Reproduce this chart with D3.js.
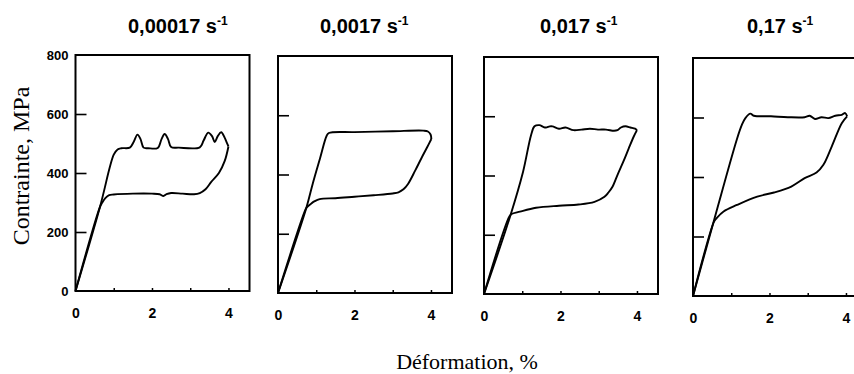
<!DOCTYPE html>
<html><head><meta charset="utf-8">
<script src="https://cdn.jsdelivr.net/npm/d3@7"></script>
<style>body{margin:0;background:#fff}svg{display:block}</style>
</head><body><svg id="c" width="854" height="374"></svg>
<script>
// ---- data ----
const rates = ["0,00017", "0,0017", "0,017", "0,17"];
const rateUnit = "s";
const rateExp = "-1";
const yTickValues = [0, 200, 400, 600, 800];
const yInnerTicks = [200, 400, 600];
const xTickLabels = [0, 2, 4];
const xMinorTicks = [1, 2, 3, 4];
const xLabel = "Déformation, %";
const yLabel = "Contrainte, MPa";

const load1 = [[0,0],[0.64,285],[1.0,462],[1.1,480],[1.2,484],[1.42,486],[1.52,505],[1.62,530],[1.7,515],[1.78,486],[1.9,484],[2.15,485],[2.25,515],[2.33,532],[2.42,515],[2.5,488],[2.7,486],[3.25,487],[3.35,510],[3.47,537],[3.57,525],[3.64,505],[3.72,525],[3.81,538],[3.9,520],[3.95,505],[4.0,490]];
const unload1 = [[4.0,490],[3.9,440],[3.75,400],[3.55,370],[3.4,345],[3.25,332],[3.1,328],[2.8,330],[2.5,332],[2.38,328],[2.3,322],[2.2,328],[2.0,330],[1.5,330],[1.0,327],[0.88,325],[0.78,315],[0.7,300],[0.64,285],[0,0]];

const load2 = [[0,0],[0.74,287],[0.91,370],[1.1,455],[1.27,530],[1.33,540],[2.0,543],[3.0,546],[3.8,548],[3.92,545],[3.99,535],[4.01,520]];
const unload2 = [[4.01,520],[3.9,492],[3.75,455],[3.59,414],[3.4,368],[3.28,350],[3.15,340],[3.0,336],[2.5,330],[2.0,325],[1.5,320],[1.09,317],[0.96,310],[0.85,300],[0.76,290],[0.72,282],[0,0]];

const load3 = [[0,0],[0.68,261],[1.02,412],[1.23,536],[1.32,566],[1.45,570],[1.55,564],[1.62,562],[1.72,566],[1.79,566],[1.96,558],[2.13,562],[2.34,553],[2.55,555],[2.77,558],[2.98,555],[3.19,555],[3.4,551],[3.49,553],[3.58,562],[3.7,566],[3.83,562],[3.95,558],[4.0,553]];
const unload3 = [[4.0,553],[3.91,530],[3.78,490],[3.66,452],[3.5,405],[3.36,362],[3.25,342],[3.15,328],[2.89,311],[2.47,302],[1.96,298],[1.36,291],[0.94,278],[0.72,270],[0.66,261],[0,0]];

const load4 = [[0,0],[0.55,255],[1.15,528],[1.28,576],[1.37,598],[1.5,613],[1.59,606],[2.04,604],[2.48,601],[2.92,601],[3.05,606],[3.19,595],[3.36,601],[3.54,598],[3.72,606],[3.89,609],[3.98,615],[4.03,604]];
const unload4 = [[4.03,604],[3.89,581],[3.63,503],[3.41,441],[3.23,415],[2.92,396],[2.57,368],[2.12,348],[1.68,334],[1.15,306],[0.8,284],[0.62,262],[0.55,250],[0,0]];

const loads = [load1, load2, load3, load4];
const unloads = [unload1, unload2, unload3, unload4];

// ---- layout ----
const panelLeft = [75.5, 278, 484, 693];
const panelTop = [55, 56, 57, 58];
const panelBottom = [291, 293, 294, 296];
const panelWidth = 174;
const titleX = [128, 320, 540, 747];
const xMax = 4.55, yMax = 800;

const svg = d3.select("#c");
const sans = "'Liberation Sans', Arial, sans-serif";
const serif = "'Liberation Serif', 'Times New Roman', serif";

rates.forEach((r, i) => {
  const x = d3.scaleLinear().domain([0, xMax]).range([panelLeft[i], panelLeft[i] + panelWidth]);
  const y = d3.scaleLinear().domain([0, yMax]).range([panelBottom[i], panelTop[i]]);
  const g = svg.append("g");

  // y ticks (inward)
  const ya = g.append("g").attr("transform", `translate(${panelLeft[i]},0)`)
    .call(d3.axisLeft(y).tickValues(i === 0 ? yTickValues : yInnerTicks)
      .tickSize(0).tickPadding(7).tickFormat(i === 0 ? d3.format("d") : () => ""));
  ya.select(".domain").remove();
  ya.selectAll("text").attr("font-family", sans).attr("font-weight", "bold").attr("font-size", 13).attr("fill", "#000");
  ya.selectAll(".tick").each(function(d){
    if (yInnerTicks.includes(d)) d3.select(this).append("line").attr("x1", 0).attr("x2", 11).attr("stroke", "#000").attr("stroke-width", 1.6);
  });

  // x minor ticks
  const xa = g.append("g").attr("transform", `translate(0,${panelBottom[i]})`)
    .call(d3.axisBottom(x).tickValues(xMinorTicks).tickSize(-3).tickFormat(() => ""));
  xa.select(".domain").remove();
  xa.selectAll("line").attr("stroke", "#000").attr("stroke-width", 1.5);

  // x labels
  const xl = g.append("g").attr("transform", `translate(0,${panelBottom[i]})`)
    .call(d3.axisBottom(x).tickValues(xTickLabels).tickSize(0).tickPadding(17).tickFormat(d3.format("d")));
  xl.select(".domain").remove();
  xl.selectAll("text").attr("font-family", sans).attr("font-weight", "bold").attr("font-size", 14).attr("fill", "#000");

  // frame
  g.append("rect").attr("x", x(0)).attr("y", y(yMax)).attr("width", x(xMax) - x(0)).attr("height", y(0) - y(yMax))
    .attr("fill", "none").attr("stroke", "#000").attr("stroke-width", 2);

  const line = d3.line().x(d => x(d[0])).y(d => y(d[1])).curve(d3.curveCatmullRom.alpha(0.5));
  [loads[i], unloads[i]].forEach(s => {
    g.append("path").attr("d", line(s)).attr("fill", "none").attr("stroke", "#000").attr("stroke-width", 1.9).attr("stroke-linejoin", "round");
  });

  // title
  const t = svg.append("text").attr("x", titleX[i]).attr("y", 33)
    .attr("font-family", sans).attr("font-weight", "bold").attr("font-size", 20).attr("fill", "#000");
  t.append("tspan").text(r + " " + rateUnit);
  t.append("tspan").attr("font-size", 12).attr("dy", -8).text(rateExp);
});

svg.append("text").attr("x", 467).attr("y", 369).attr("text-anchor", "middle")
  .attr("font-family", serif).attr("font-size", 22).attr("fill", "#000").text(xLabel);
svg.append("text").attr("transform", "translate(29,166) rotate(-90)").attr("text-anchor", "middle")
  .attr("font-family", serif).attr("font-size", 24).attr("fill", "#000").text(yLabel);
</script></body></html>
